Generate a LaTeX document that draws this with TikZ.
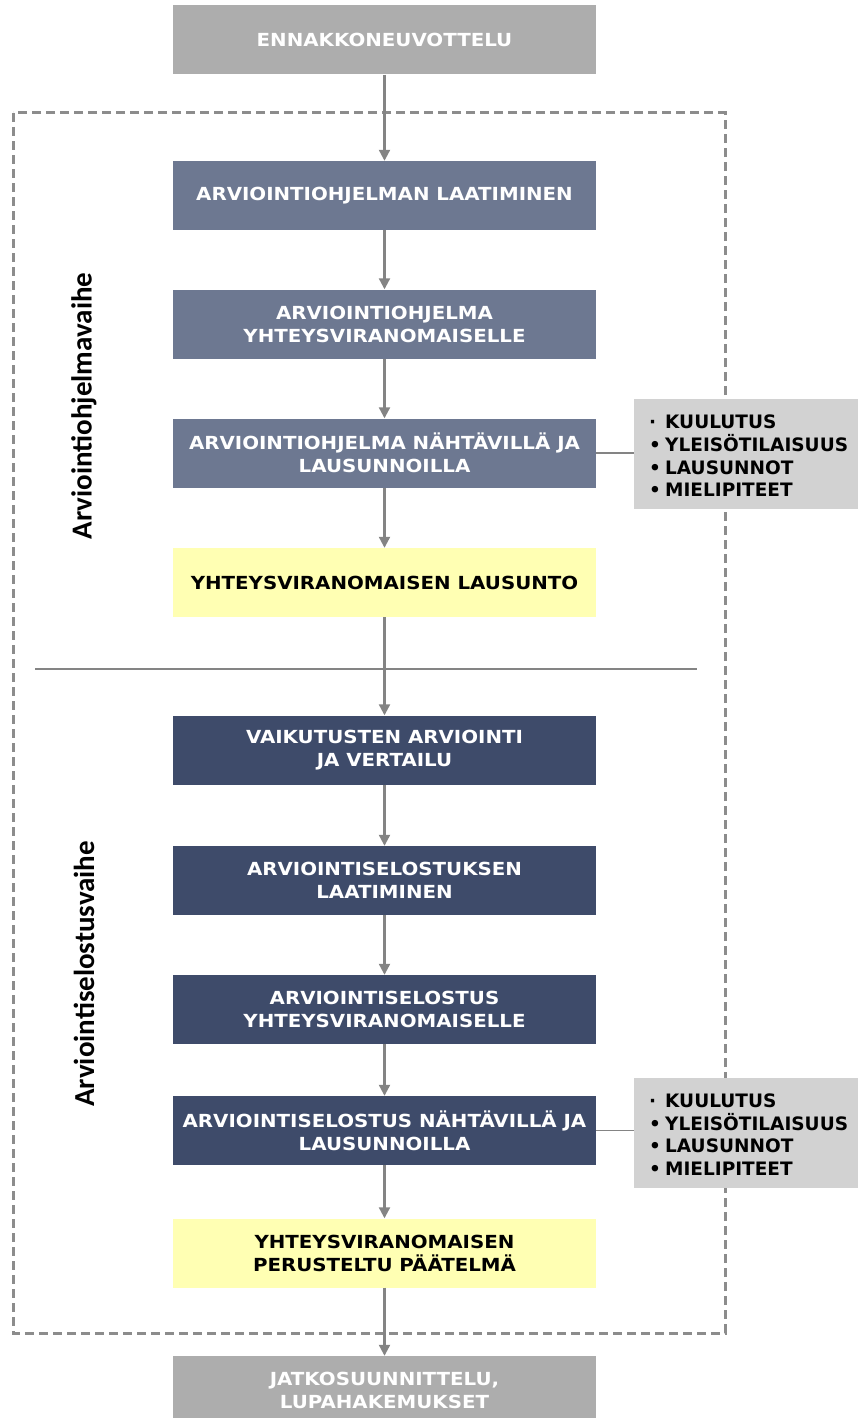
\documentclass[tikz,border=0pt]{standalone}
\usepackage{fontspec}
\setmainfont{DejaVu Sans}
\newfontfamily\boxfont{DejaVu Sans}[FakeStretch=1.1]
\newfontfamily\lblfont{Carlito}
\usetikzlibrary{arrows.meta}
\definecolor{endgray}{HTML}{ADADAD}
\definecolor{midblue}{HTML}{6D7891}
\definecolor{darkblue}{HTML}{3E4B6A}
\definecolor{paleyellow}{HTML}{FFFFB3}
\definecolor{sidegray}{HTML}{D2D2D2}
\definecolor{linegray}{HTML}{848484}
\definecolor{dashgray}{HTML}{8C8C8C}
\newcommand{\bul}[1]{\makebox[16pt][l]{#1}}
\begin{document}
\begin{tikzpicture}[x=1pt,y=-1pt,
  box/.style={rectangle, minimum width=423pt, minimum height=69pt, inner sep=0pt, align=center,
    font=\boxfont\fontsize{18}{23}\selectfont\bfseries},
  endbox/.style={box, fill=endgray, text=white},
  midbox/.style={box, fill=midblue, text=white},
  darkbox/.style={box, fill=darkblue, text=white},
  yelbox/.style={box, fill=paleyellow, text=black},
  sidebox/.style={rectangle, fill=sidegray, minimum width=240pt, minimum height=110pt, inner sep=0pt},
  sidetext/.style={align=left, anchor=west, inner sep=0pt, font=\fontsize{18.5}{22.7}\selectfont\bfseries},
  arr/.style={draw=linegray, line width=2.2pt, -{Triangle[length=11pt,width=11pt]}},
  conn/.style={draw=linegray, line width=1.8pt},
  dashbox/.style={draw=dashgray, line width=3pt, dash pattern=on 9pt off 5pt},
  sep/.style={draw=linegray, line width=1.5pt},
  phase/.style={rotate=90, font=\lblfont\fontsize{29}{32}\selectfont\bfseries}
]
\useasboundingbox (0,0) rectangle (858,1418);
\clip (0,0) rectangle (858,1418);

\draw[dashbox] (13,113) rectangle (725,1333);
\draw[sep] (35,669) -- (697,669);

\node[endbox]  (top) at (384.5,40)    {ENNAKKONEUVOTTELU};
\node[midbox]  (b1)  at (384.5,195.5) {ARVIOINTIOHJELMAN LAATIMINEN};
\node[midbox]  (b2)  at (384.5,324)   {ARVIOINTIOHJELMA\\YHTEYSVIRANOMAISELLE};
\node[midbox]  (b3)  at (384.5,453)   {ARVIOINTIOHJELMA NÄHTÄVILLÄ JA\\LAUSUNNOILLA};
\node[yelbox]  (b4)  at (384.5,582.5) {YHTEYSVIRANOMAISEN LAUSUNTO};
\node[darkbox] (b5)  at (384.5,750)   {VAIKUTUSTEN ARVIOINTI\\JA VERTAILU};
\node[darkbox] (b6)  at (384.5,880.5) {ARVIOINTISELOSTUKSEN\\LAATIMINEN};
\node[darkbox] (b7)  at (384.5,1009.5){ARVIOINTISELOSTUS\\YHTEYSVIRANOMAISELLE};
\node[darkbox] (b8)  at (384.5,1130.5){ARVIOINTISELOSTUS NÄHTÄVILLÄ JA\\LAUSUNNOILLA};
\node[yelbox]  (b9)  at (384.5,1253)  {YHTEYSVIRANOMAISEN\\PERUSTELTU PÄÄTELMÄ};
\node[endbox]  (bot) at (384.5,1390.5){JATKOSUUNNITTELU,\\LUPAHAKEMUKSET};

\node[sidebox, anchor=west] (s1) at (634,454) {};
\node[sidetext] (s1t) at (649,456) {\bul{·}KUULUTUS\\\bul{•}YLEISÖTILAISUUS\\\bul{•}LAUSUNNOT\\\bul{•}MIELIPITEET};
\node[sidebox, anchor=west] (s2) at (634,1132.5) {};
\node[sidetext] (s2t) at (649,1134.5) {\bul{·}KUULUTUS\\\bul{•}YLEISÖTILAISUUS\\\bul{•}LAUSUNNOT\\\bul{•}MIELIPITEET};

\draw[arr] (top) -- (b1);
\draw[arr] (b1) -- (b2);
\draw[arr] (b2) -- (b3);
\draw[arr] (b3) -- (b4);
\draw[arr] (b4) -- (b5);
\draw[arr] (b5) -- (b6);
\draw[arr] (b6) -- (b7);
\draw[arr] (b7) -- (b8);
\draw[arr] (b8) -- (b9);
\draw[arr] (b9) -- (bot);
\draw[conn] (b3.east) -- (b3.east -| s1.west);
\draw[conn] (b8.east) -- (b8.east -| s2.west);

\node[phase] (p1) at (84,406) {Arviointiohjelmavaihe};
\node[phase] (p2) at (84,974) {Arviointiselostusvaihe};
\end{tikzpicture}
\end{document}
